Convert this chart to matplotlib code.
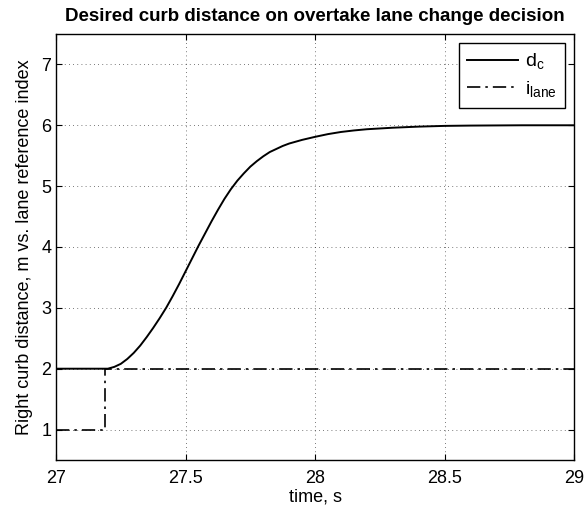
import matplotlib
matplotlib.use("Agg")
import matplotlib.pyplot as plt

# Data
t_dc = [27.0, 27.2, 27.225, 27.25, 27.275, 27.3, 27.325, 27.35, 27.375, 27.4,
        27.425, 27.45, 27.475, 27.5, 27.525, 27.55, 27.575, 27.6, 27.625, 27.65,
        27.675, 27.7, 27.725, 27.75, 27.775, 27.8, 27.825, 27.85, 27.875, 27.9,
        27.95, 28.0, 28.05, 28.1, 28.15, 28.2, 28.3, 28.4, 28.5, 28.6, 28.8, 29.0]
d_c = [2.0, 2.0, 2.03, 2.08, 2.16, 2.26, 2.38, 2.52, 2.67, 2.83,
       3.0, 3.19, 3.39, 3.6, 3.81, 4.02, 4.22, 4.42, 4.61, 4.79,
       4.95, 5.09, 5.21, 5.32, 5.41, 5.49, 5.56, 5.61, 5.66, 5.70,
       5.76, 5.81, 5.855, 5.89, 5.915, 5.935, 5.96, 5.978, 5.99, 5.995, 6.0, 6.0]
t_lane = [27.0, 27.19, 27.19, 29.0]
i_lane = [1, 1, 2, 2]

xticks = [27, 27.5, 28, 28.5, 29]
xtick_labels = ["27", "27.5", "28", "28.5", "29"]
yticks = [1, 2, 3, 4, 5, 6, 7]

plt.rcParams['font.family'] = ['Liberation Sans', 'DejaVu Sans']
plt.rcParams['mathtext.fontset'] = 'custom'
plt.rcParams['mathtext.rm'] = 'Liberation Sans'
plt.rcParams['mathtext.it'] = 'Liberation Sans'

fig = plt.figure(figsize=(5.84, 5.12), dpi=100)
ax = fig.add_axes([0.096, 0.1016, 0.887, 0.832])

ax.plot(t_dc, d_c, color='black', lw=1.4, label=r'd$_\mathregular{c}$')
ax.plot(t_lane, i_lane, color='black', lw=1.2, linestyle=(0, (8, 3, 1.5, 3)),
        label=r'i$_\mathregular{lane}$')

ax.set_xlim(27, 29)
ax.set_ylim(0.5, 7.5)
ax.set_xticks(xticks)
ax.set_xticklabels(xtick_labels)
ax.set_yticks(yticks)
ax.tick_params(direction='in', top=True, right=True, length=4, labelsize=13, width=0.8)
ax.tick_params(axis='x', pad=7)
ax.grid(True, linestyle=(0, (1, 4)), color='black', lw=0.6, alpha=0.7)
for s in ax.spines.values():
    s.set_linewidth(1.0)

ax.set_xlabel('time, s', fontsize=13, labelpad=1)
ax.set_ylabel('Right curb distance, m vs. lane reference index', fontsize=13, labelpad=6)
ax.set_title('Desired curb distance on overtake lane change decision', fontsize=13.5,
             fontweight='bold', pad=9)

leg = ax.legend(loc='upper right', fontsize=14, fancybox=False, framealpha=1,
                edgecolor='black', handlelength=2.6, borderpad=0.45, labelspacing=0.4,
                borderaxespad=0.45, handletextpad=0.35)
leg.get_frame().set_linewidth(1.0)

fig.savefig('out.png', dpi=100)
